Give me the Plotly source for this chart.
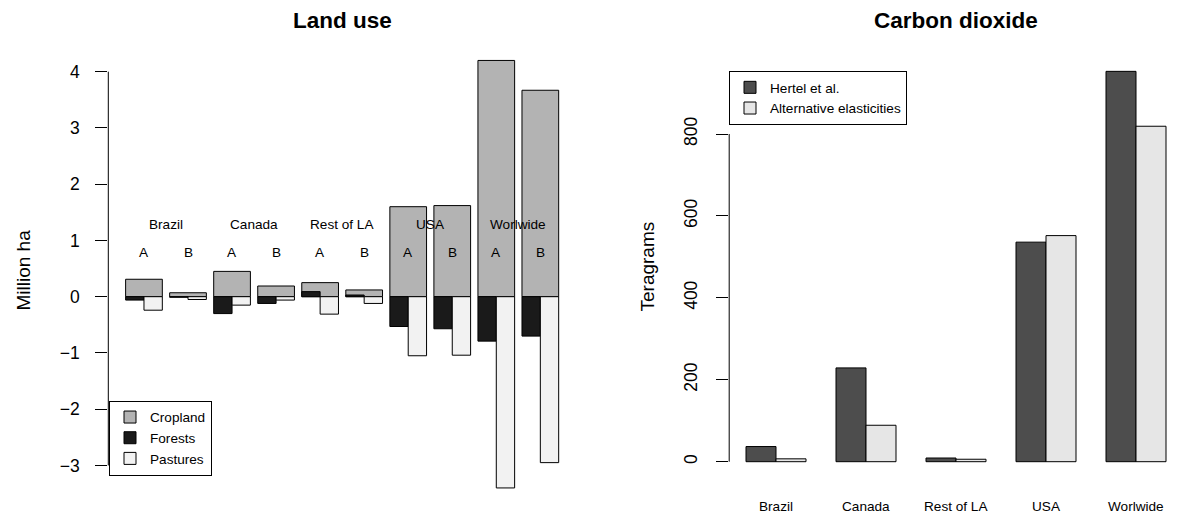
import numpy as np
import plotly.graph_objects as go

# ---------------- data ----------------
regions = ["Brazil", "Canada", "Rest of LA", "USA", "Worlwide"]
scenarios = ["A", "B"]
cropland = [0.31, 0.07, 0.45, 0.19, 0.25, 0.12, 1.60, 1.62, 4.20, 3.67]
forests = [-0.06, -0.01, -0.30, -0.12, 0.09, 0.03, -0.53, -0.57, -0.79, -0.70]
pastures = [-0.24, -0.05, -0.15, -0.06, -0.31, -0.12, -1.05, -1.04, -3.40, -2.95]
land_ticks = [-3, -2, -1, 0, 1, 2, 3, 4]

co2_hertel = [37, 229, 9, 536, 953]
co2_alt = [7, 89, 6, 552, 819]
co2_ticks = [0, 200, 400, 600, 800]

# ---------------- layout helpers ----------------
W, H = 1185, 519
FONT = "Liberation Sans, Arial, Helvetica, sans-serif"


def px(x):
    return x / W


def py(y):
    return 1 - y / H


# left panel geometry (pixels)
L_X0, L_X1 = 108.3, 576.0
L_Y0, L_Y1 = 40.0, 500.0          # top, bottom
L_ZERO, L_UNIT = 296.7, 56.25     # pixel of 0, px per unit
# right panel geometry
R_X0, R_X1 = 729.2, 1182.8
R_Y0, R_Y1 = 55.8, 477.3
R_ZERO, R_UNIT = 461.7, 0.4096

n_bars = len(cropland)
idx = np.arange(n_bars)
bw = 1 / 1.2                       # bar width relative to pitch (R space=0.2)

fig = go.Figure()

C_CROP, C_FOR, C_PAST = "#b3b3b3", "#1a1a1a", "#f2f2f2"
C_H, C_A = "#4d4d4d", "#e6e6e6"
line = dict(color="black", width=1)

fig.add_trace(go.Bar(x=idx, y=cropland, width=bw, offset=-bw / 2,
                     marker=dict(color=C_CROP, line=line), name="Cropland",
                     xaxis="x", yaxis="y", legend="legend"))
fig.add_trace(go.Bar(x=idx, y=forests, width=bw / 2, offset=-bw / 2,
                     marker=dict(color=C_FOR, line=line), name="Forests",
                     xaxis="x", yaxis="y", legend="legend"))
fig.add_trace(go.Bar(x=idx, y=pastures, width=bw / 2, offset=0,
                     marker=dict(color=C_PAST, line=line), name="Pastures",
                     xaxis="x", yaxis="y", legend="legend"))

gidx = np.arange(len(regions))
gw = 1 / 3
fig.add_trace(go.Bar(x=gidx, y=co2_hertel, width=gw, offset=-gw,
                     marker=dict(color=C_H, line=line), name="Hertel et al.",
                     xaxis="x2", yaxis="y2", legend="legend2"))
fig.add_trace(go.Bar(x=gidx, y=co2_alt, width=gw, offset=0,
                     marker=dict(color=C_A, line=line), name="Alternative elasticities",
                     xaxis="x2", yaxis="y2", legend="legend2"))

# axis ranges from pixel geometry
l_pitch = 1.2 * 36.7
l_half = (L_X1 - L_X0) / l_pitch / 2
l_mid = (n_bars - 1) / 2
r_pitch = 90.0
r_half = (R_X1 - R_X0) / r_pitch / 2
r_mid = (len(regions) - 1) / 2

hidden_x = dict(showticklabels=False, showline=False, zeroline=False,
                showgrid=False, ticks="", fixedrange=True)

fig.update_layout(
    width=W, height=H,
    margin=dict(l=0, r=0, t=0, b=0),
    paper_bgcolor="white", plot_bgcolor="rgba(0,0,0,0)",
    barmode="overlay",
    font=dict(family=FONT, color="black"),
    xaxis=dict(domain=[px(L_X0), px(L_X1)], range=[l_mid - l_half, l_mid + l_half],
               anchor="y", **hidden_x),
    yaxis=dict(domain=[py(L_Y1), py(L_Y0)],
               range=[(L_ZERO - L_Y1) / L_UNIT, (L_ZERO - L_Y0) / L_UNIT],
               anchor="x", tickvals=land_ticks, ticks="outside", ticklen=12,
               tickcolor="black", tickwidth=1, showline=False, zeroline=False,
               showgrid=False, tickfont=dict(size=17.5), ticklabelstandoff=12,
               automargin=False),
    xaxis2=dict(domain=[px(R_X0), px(R_X1)], range=[r_mid - r_half, r_mid + r_half],
                anchor="y2", **hidden_x),
    yaxis2=dict(domain=[py(R_Y1), py(R_Y0)],
                range=[(R_ZERO - R_Y1) / R_UNIT, (R_ZERO - R_Y0) / R_UNIT],
                anchor="x2", tickvals=co2_ticks, ticks="outside", ticklen=12,
                tickcolor="black", tickwidth=1, showline=False, zeroline=False,
                showgrid=False, tickangle=-90, tickfont=dict(size=17.5),
                ticklabelstandoff=12, automargin=False),
    legend=dict(x=px(109), y=py(400.7), xanchor="left", yanchor="top",
                bgcolor="white", bordercolor="black", borderwidth=1,
                font=dict(size=13.6), itemwidth=30, tracegroupgap=0,
                traceorder="normal"),
    legend2=dict(x=px(729), y=py(71), xanchor="left", yanchor="top",
                 bgcolor="white", bordercolor="black", borderwidth=1,
                 font=dict(size=13.6), itemwidth=30, tracegroupgap=0,
                 traceorder="normal"),
    showlegend=True,
)

# axis lines spanning first..last tick (R style)
fig.add_shape(type="line", xref="paper", yref="y", x0=px(L_X0), x1=px(L_X0),
              y0=min(land_ticks), y1=max(land_ticks), line=dict(color="black", width=1))
fig.add_shape(type="line", xref="paper", yref="y2", x0=px(R_X0), x1=px(R_X0),
              y0=min(co2_ticks), y1=max(co2_ticks), line=dict(color="black", width=1))

ann = []
# titles
ann.append(dict(text="<b>Land use</b>", x=px((L_X0 + L_X1) / 2), y=py(20),
                xref="paper", yref="paper", showarrow=False, font=dict(size=22.5),
                xanchor="center", yanchor="middle"))
ann.append(dict(text="<b>Carbon dioxide</b>", x=px((R_X0 + R_X1) / 2), y=py(20),
                xref="paper", yref="paper", showarrow=False, font=dict(size=22.5),
                xanchor="center", yanchor="middle"))
# axis titles
ann.append(dict(text="Million ha", x=px(22.5), y=py(270), xref="paper", yref="paper",
                showarrow=False, textangle=-90, font=dict(size=19),
                xanchor="center", yanchor="middle"))
ann.append(dict(text="Teragrams", x=px(647), y=py(266.5), xref="paper", yref="paper",
                showarrow=False, textangle=-90, font=dict(size=19),
                xanchor="center", yanchor="middle"))
# left panel region and scenario labels
for g, reg in enumerate(regions):
    ann.append(dict(text=reg, x=2 * g + 0.5, y=py(224.3), xref="x", yref="paper",
                    showarrow=False, font=dict(size=13.6),
                    xanchor="center", yanchor="middle"))
    for s, sc in enumerate(scenarios):
        ann.append(dict(text=sc, x=2 * g + s, y=py(252.5), xref="x", yref="paper",
                        showarrow=False, font=dict(size=13.6),
                        xanchor="center", yanchor="middle"))
# right panel category names
for g, reg in enumerate(regions):
    ann.append(dict(text=reg, x=g, y=py(506.5), xref="x2", yref="paper",
                    showarrow=False, font=dict(size=13.6),
                    xanchor="center", yanchor="middle"))
fig.update_layout(annotations=ann)

fig.write_html("out.html")
